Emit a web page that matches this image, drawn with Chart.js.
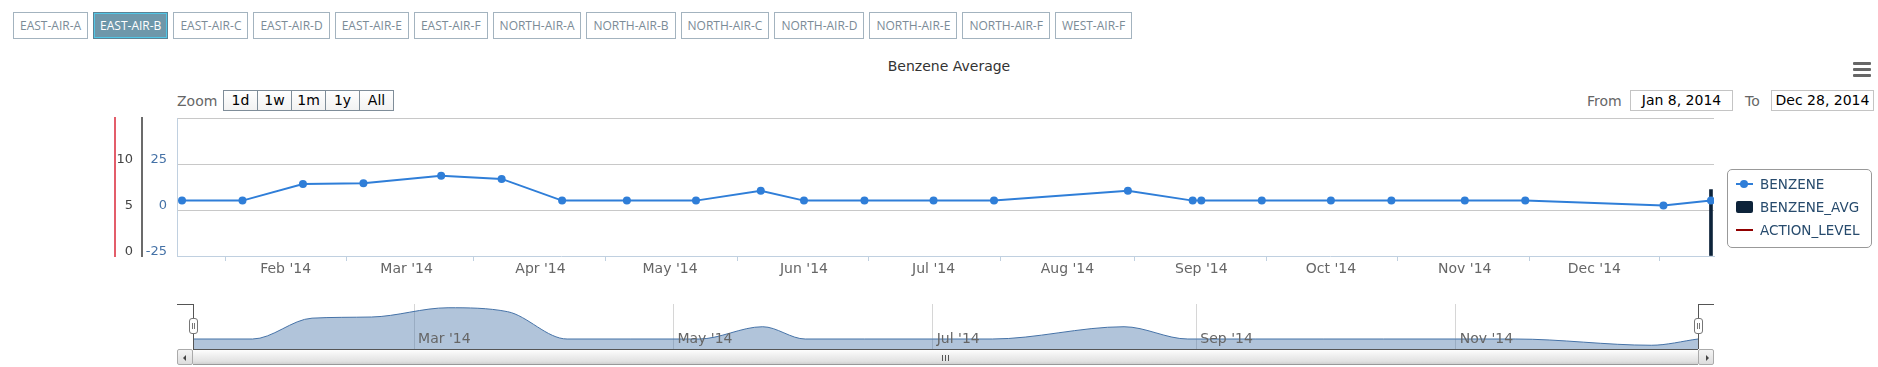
<!DOCTYPE html>
<html>
<head>
<meta charset="utf-8">
<title>Benzene Average</title>
<script src="https://cdn.jsdelivr.net/npm/chart.js@4.4.1/dist/chart.umd.min.js"></script>
<style>
  html, body { margin: 0; padding: 0; background: #fff; }
  body { width: 1878px; height: 367px; position: relative; overflow: hidden; font-family: 'DejaVu Sans', sans-serif; }
  canvas { position: absolute; left: 0; }
  #stations { position: absolute; left: 13px; top: 12px; display: flex; gap: 5px; }
  #stations button {
    height: 27px; padding: 0 6px; box-sizing: border-box;
    border: 1px solid #a3b3bf; background: #fff; color: #7b8b97;
    font: 12px 'Open Sans', sans-serif;
  }
  #stations button.on { background: #6e97aa; color: #fff; border-color: #5b8294; box-shadow: inset 0 0 0 1px #52c6e6; }
  #title { position: absolute; left: 0; width: 1898px; top: 58px; text-align: center; font-size: 14px; color: #333; }
  #menu { position: absolute; left: 1853px; top: 62px; width: 18px; }
  #menu i { display: block; height: 3px; margin-bottom: 3px; background: #666; border-radius: 1px; }
  .lbl { position: absolute; font-size: 14px; color: #666; line-height: 20px; }
  #zoom { position: absolute; left: 224px; top: 90px; display: flex; }
  #zoom span {
    width: 35px; height: 21px; margin-left: -1px; box-sizing: border-box; border: 1px solid #7f8d99;
    background: linear-gradient(#fff, #f2f2f2); font-size: 14px; line-height: 19px; text-align: center; color: #000;
  }
  .inp { position: absolute; top: 90px; width: 103px; height: 21px; box-sizing: border-box; border: 1px solid #c4c4c4;
    font-size: 14px; line-height: 19px; text-align: center; color: #000; }
  #legend { position: absolute; left: 1727px; top: 169px; width: 145px; height: 79px; box-sizing: border-box;
    border: 1px solid #999; border-radius: 5px; }
  .li { position: absolute; left: 8px; height: 20px; font-size: 13.5px; line-height: 20px; color: #274b6d; white-space: nowrap; }
  .li .sym { position: absolute; left: 0; top: 4px; width: 17px; height: 12px; }
  .li .txt { position: absolute; left: 24px; top: 0; }
  .nv { position: absolute; background: #555; }
  .handle { position: absolute; top: 318px; width: 9px; height: 16px; box-sizing: border-box; border: 1px solid #777;
    border-radius: 3px; background: #fff; }
  .handle::before, .handle::after { content: ''; position: absolute; top: 4px; width: 1px; height: 6px; background: #777; }
  .handle::before { left: 2px; } .handle::after { left: 4px; }
  .sbtn { position: absolute; top: 349px; width: 16px; height: 16px; box-sizing: border-box; border: 1px solid #aaa;
    border-radius: 2px; background: linear-gradient(#f4f4f4, #ddd); }
  .sbtn b { position: absolute; top: 5px; width: 0; height: 0; border-top: 3px solid transparent; border-bottom: 3px solid transparent; }
  #thumb { position: absolute; left: 193px; top: 349px; width: 1505px; height: 16px; box-sizing: border-box;
    border-top: 1px solid #555; border-bottom: 1px solid #999; background: linear-gradient(#fdfdfd, #e2e2e2 80%, #d0d0d0); }
  #grip { position: absolute; left: 749px; top: 5px; width: 7px; height: 6px;
    background: repeating-linear-gradient(90deg, #555 0 1px, transparent 1px 3px); }
</style>
</head>
<body>
<div id="stations"></div>
<div id="title">Benzene Average</div>
<div id="menu"><i></i><i></i><i></i></div>

<div class="lbl" style="left:177px;top:91px;">Zoom</div>
<div id="zoom"></div>
<div class="lbl" style="left:1587px;top:91px;">From</div>
<div class="inp" style="left:1630px;">Jan 8, 2014</div>
<div class="lbl" style="left:1745px;top:91px;">To</div>
<div class="inp" style="left:1771px;">Dec 28, 2014</div>

<canvas id="main" width="1878" height="290" style="top:0"></canvas>
<canvas id="nav" width="1878" height="60" style="top:290px"></canvas>
<div id="legend"></div>

<div class="nv" style="left:177px;top:304px;width:16px;height:1px;"></div>
<div class="nv" style="left:193px;top:304px;width:1px;height:45px;"></div>
<div class="nv" style="left:1698px;top:304px;width:1px;height:45px;"></div>
<div class="nv" style="left:1698px;top:304px;width:16px;height:1px;"></div>
<div id="thumb"><div id="grip"></div></div>
<div class="sbtn" style="left:177px;"><b style="left:5px;border-right:3px solid #444;"></b></div>
<div class="sbtn" style="left:1698px;"><b style="left:7px;border-left:3px solid #444;"></b></div>
<div class="handle" style="left:189px;"></div>
<div class="handle" style="left:1694px;"></div>

<script>
const STATIONS = ['EAST-AIR-A', 'EAST-AIR-B', 'EAST-AIR-C', 'EAST-AIR-D', 'EAST-AIR-E', 'EAST-AIR-F',
  'NORTH-AIR-A', 'NORTH-AIR-B', 'NORTH-AIR-C', 'NORTH-AIR-D', 'NORTH-AIR-E', 'NORTH-AIR-F', 'WEST-AIR-F'];
const SELECTED = 'EAST-AIR-B';
const ZOOM_BUTTONS = ['1d', '1w', '1m', '1y', 'All'];

const SAMPLE_DATES = ['2014-01-08', '2014-01-22', '2014-02-05', '2014-02-19', '2014-03-09', '2014-03-23',
  '2014-04-06', '2014-04-21', '2014-05-07', '2014-05-22', '2014-06-01', '2014-06-15',
  '2014-07-01', '2014-07-15', '2014-08-15', '2014-08-30', '2014-09-01', '2014-09-15',
  '2014-10-01', '2014-10-15', '2014-11-01', '2014-11-15', '2014-12-17', '2014-12-28'];
const BENZENE = [5.1, 5.1, 14.1, 14.6, 18.6, 16.9,
  5.1, 5.1, 5.1, 10.4, 5.1, 5.1,
  5.1, 5.1, 10.4, 5.1, 5.1, 5.1,
  5.1, 5.1, 5.1, 5.1, 2.4, 5.1];
const AVG_DATES = ['2014-12-28'];
const BENZENE_AVG = [7.7];
const ACTION_LEVEL = [];

const MONTH_TICKS = ['2014-02-01', '2014-03-01', '2014-04-01', '2014-05-01', '2014-06-01', '2014-07-01',
  '2014-08-01', '2014-09-01', '2014-10-01', '2014-11-01', '2014-12-01'];
const MONTH_LABELS = ["Feb '14", "Mar '14", "Apr '14", "May '14", "Jun '14", "Jul '14",
  "Aug '14", "Sep '14", "Oct '14", "Nov '14", "Dec '14"];
const NAV_TICKS = ['2014-03-01', '2014-05-01', '2014-07-01', '2014-09-01', '2014-11-01'];
const NAV_LABELS = ["Mar '14", "May '14", "Jul '14", "Sep '14", "Nov '14"];

// ───────────────────────────────────────────────────────────────────────────

const DAY0 = Date.UTC(2014, 0, 8);
function day(s) {
  const [y, m, d] = s.split('-').map(Number);
  return (Date.UTC(y, m - 1, d) - DAY0) / 864e5;
}

Chart.defaults.font.family = "'DejaVu Sans', sans-serif";
Chart.defaults.animation = false;

document.getElementById('stations').innerHTML = STATIONS
  .map(s => `<button class="${s === SELECTED ? 'on' : ''}">${s}</button>`).join('');
document.getElementById('zoom').innerHTML = ZOOM_BUTTONS.map(b => `<span>${b}</span>`).join('');

const benzenePoints = SAMPLE_DATES.map((d, i) => ({ x: day(d), y: BENZENE[i] }));

const main = new Chart(document.getElementById('main'), {
  type: 'line',
  data: {
    datasets: [
      { label: 'BENZENE', data: benzenePoints, yAxisID: 'yBenz', order: 0,
        borderColor: '#2f7ed8', backgroundColor: '#2f7ed8', borderWidth: 2,
        pointRadius: 4, pointBorderWidth: 0, tension: 0 },
      { type: 'bar', label: 'BENZENE_AVG', yAxisID: 'yAvg', order: 1,
        data: AVG_DATES.map((d, i) => ({ x: day(d), y: BENZENE_AVG[i] })),
        backgroundColor: '#0d233a', barThickness: 3 },
      { label: 'ACTION_LEVEL', data: ACTION_LEVEL, yAxisID: 'yAction', order: 2,
        borderColor: '#910000', backgroundColor: '#910000', borderWidth: 2, pointRadius: 0 }
    ]
  },
  options: {
    responsive: false,
    layout: { padding: { left: 100, right: 164, top: 118, bottom: 9 } },
    plugins: { legend: { display: false }, tooltip: { enabled: false } },
    scales: {
      x: {
        type: 'linear', min: -1.16, max: 354.7, offset: false,
        afterBuildTicks: s => { s.ticks = MONTH_TICKS.map(d => ({ value: day(d) })); },
        afterFit: s => { s.height = 25; },
        grid: { drawOnChartArea: false, drawTicks: true, tickLength: 5, color: '#C0D0E0' },
        border: { color: '#C0D0E0', width: 1 },
        ticks: { autoSkip: false, maxRotation: 0, padding: 0, color: '#666', font: { size: 14 },
          callback: (v, i) => MONTH_LABELS[i] }
      },
      yBenz: {
        position: 'left', weight: 0, min: -25, max: 50,
        afterFit: s => { s.width = 35; },
        grid: { drawTicks: false, color: c => c.tick.value === -25 ? 'rgba(0,0,0,0)' : '#C8C8C8' },
        border: { color: '#C0D0E0', width: 1 },
        ticks: { stepSize: 25, padding: 10, labelOffset: -4, color: '#4572A7', font: { size: 13 },
          callback: v => v === 50 ? '' : v }
      },
      yAction: {
        position: 'left', weight: 1, min: 0, max: 15,
        afterFit: s => { s.width = 27; },
        grid: { drawOnChartArea: false, drawTicks: false },
        border: { color: '#6b6b6b', width: 2 },
        ticks: { stepSize: 5, padding: 9, labelOffset: -4, color: '#444', font: { size: 13 },
          callback: v => v === 15 ? '' : v }
      },
      yAvg: {
        position: 'left', weight: 2, min: 0, max: 16,
        afterFit: s => { s.width = 15; },
        grid: { drawOnChartArea: false, drawTicks: false },
        border: { color: '#e35d6a', width: 2 },
        ticks: { display: false }
      }
    }
  }
});

// legend built from the chart's datasets
document.getElementById('legend').innerHTML = main.data.datasets.map((ds, i) => {
  const c = ds.borderColor || ds.backgroundColor;
  let sym;
  if (ds.type === 'bar') {
    sym = `<span class="sym" style="background:${ds.backgroundColor};border-radius:2px;"></span>`;
  } else if (ds.pointRadius > 0) {
    sym = `<span class="sym"><span style="position:absolute;left:0;top:5px;width:17px;height:2px;background:${c}"></span>` +
      `<span style="position:absolute;left:4px;top:2px;width:8px;height:8px;border-radius:50%;background:${c}"></span></span>`;
  } else {
    sym = `<span class="sym"><span style="position:absolute;left:0;top:5px;width:17px;height:2px;background:${c}"></span></span>`;
  }
  return `<div class="li" style="top:${4 + i * 23}px">${sym}<span class="txt">${ds.label}</span></div>`;
}).join('');

// navigator: tick labels sit inside the plot, over the area
const navLabels = {
  id: 'navLabels',
  afterDatasetsDraw(chart) {
    const s = chart.scales.x, ctx = chart.ctx;
    ctx.save();
    ctx.font = "14px 'DejaVu Sans', sans-serif";
    ctx.fillStyle = '#666';
    ctx.textBaseline = 'middle';
    ctx.textAlign = 'left';
    s.ticks.forEach((t, i) => ctx.fillText(NAV_LABELS[i], s.getPixelForValue(t.value) + 4, chart.chartArea.bottom - 10));
    ctx.restore();
  }
};

const lo = Math.min(...BENZENE), hi = Math.max(...BENZENE), pad = (hi - lo) * 0.1;
new Chart(document.getElementById('nav'), {
  type: 'line',
  data: {
    datasets: [{
      data: benzenePoints, fill: 'start', cubicInterpolationMode: 'monotone',
      backgroundColor: 'rgba(69,114,167,0.42)', borderColor: '#4572A7', borderWidth: 1, pointRadius: 0
    }]
  },
  plugins: [navLabels],
  options: {
    responsive: false,
    layout: { padding: { left: 193, right: 180, top: 14, bottom: 1 } },
    plugins: { legend: { display: false }, tooltip: { enabled: false } },
    scales: {
      x: {
        type: 'linear', min: 0, max: 354, offset: false,
        afterBuildTicks: s => { s.ticks = NAV_TICKS.map(d => ({ value: day(d) })); },
        afterFit: s => { s.height = 0; },
        grid: { drawTicks: false, color: '#d6d6d6' },
        border: { display: false },
        ticks: { display: false }
      },
      y: { display: false, min: lo - pad, max: hi + pad }
    }
  }
});
</script>
</body>
</html>
